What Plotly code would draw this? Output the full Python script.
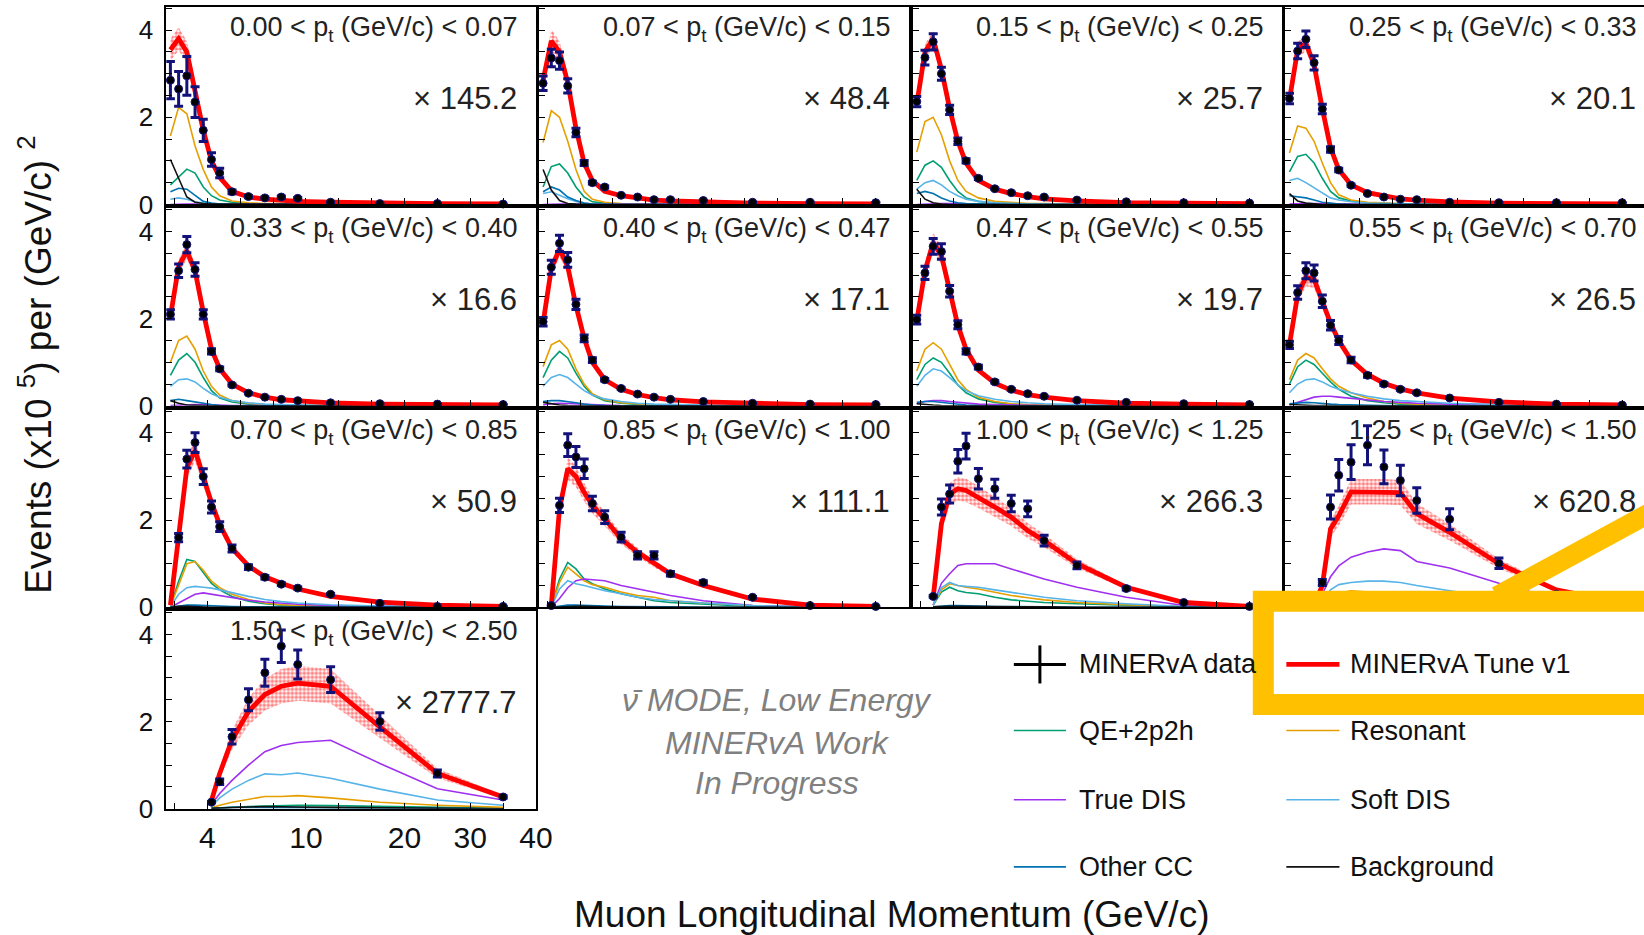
import numpy as np
import plotly.graph_objects as go

# positions below are given in a 1644 x 935 pixel frame and converted to
# paper fractions; the figure itself is rendered a little larger
W, H = 1644, 935
W_FIG, H_FIG = 1664, 952
FONT = "Liberation Sans, Arial, Helvetica, sans-serif"

# ---- binning -------------------------------------------------------------
pz_edges = [1.5, 2, 2.5, 3, 3.5, 4, 4.5, 5, 6, 7, 8, 9, 10, 15, 20, 30, 40]
# the x axis is linear up to 10 GeV/c and compressed above it
axis_gev = [1.5, 10, 20, 40]
axis_pos = [1.5, 10, 16, 24]
x_tick_gev = [4, 10, 20, 30, 40]
x_tick_text = ["4", "10", "20", "30", "40"]
y_tick_vals = [0, 2, 4]
y_tick_text = ["0", "2", "4"]

pt_lo = ["0.00", "0.07", "0.15", "0.25", "0.33", "0.40", "0.47", "0.55", "0.70", "0.85", "1.00", "1.25", "1.50"]
pt_hi = ["0.07", "0.15", "0.25", "0.33", "0.40", "0.47", "0.55", "0.70", "0.85", "1.00", "1.25", "1.50", "2.50"]
scale_factors = ["145.2", "48.4", "25.7", "20.1", "16.6", "17.1", "19.7", "26.5", "50.9", "111.1", "266.3", "620.8", "2777.7"]

# ---- measured and simulated event rates (x10^5 per (GeV/c)^2, scaled) ----
N = None
data_points = [
    [2.85, 2.65, 2.95, 2.35, 1.70, 1.03, 0.72, 0.29, 0.18, 0.15, 0.17, 0.14, 0.05, 0.02, 0.02, 0.01],
    [2.78, 3.36, 3.30, 2.72, 1.65, 0.95, 0.50, 0.40, 0.21, 0.17, 0.11, 0.11, 0.09, 0.05, 0.05, 0.04],
    [2.36, 3.37, 3.73, 3.00, 2.17, 1.45, 1.00, 0.60, 0.36, 0.27, 0.20, 0.17, 0.10, 0.06, 0.04, 0.03],
    [2.43, 3.52, 3.79, 3.25, 2.19, 1.26, 0.79, 0.44, 0.25, 0.17, 0.12, 0.11, 0.05, 0.04, 0.04, 0.04],
    [2.10, 3.10, 3.70, 3.13, 2.10, 1.25, 0.85, 0.48, 0.29, 0.20, 0.15, 0.12, 0.07, 0.05, 0.04, 0.03],
    [1.93, 3.18, 3.73, 3.35, 2.33, 1.55, 1.05, 0.60, 0.40, 0.27, 0.20, 0.15, 0.10, 0.06, 0.04, 0.03],
    [1.98, 3.05, 3.66, 3.54, 2.63, 1.86, 1.25, 0.89, 0.55, 0.38, 0.28, 0.22, 0.13, 0.08, 0.05, 0.03],
    [1.40, 2.60, 3.10, 3.05, 2.40, 1.85, 1.50, 1.05, 0.70, 0.50, 0.38, 0.30, 0.18, 0.08, 0.04, 0.02],
    [N, 1.60, 3.40, 3.78, 3.00, 2.30, 1.85, 1.35, 0.92, 0.69, 0.53, 0.44, 0.30, 0.09, 0.02, 0.02],
    [N, 0.04, 2.34, 3.72, 3.45, 3.18, 2.38, 2.07, 1.61, 1.19, 1.19, 0.77, 0.57, 0.23, 0.04, 0.02],
    [N, N, 0.25, 2.30, 2.60, 3.35, 3.70, 2.95, 2.72, 2.38, 2.26, 1.53, 0.96, 0.43, 0.11, 0.02],
    [N, N, N, N, 0.57, 2.30, 3.03, 3.33, 3.72, 3.22, 2.91, 2.45, 2.02, 1.01, 0.30, 0.05],
    [N, N, N, N, N, 0.15, 0.62, 1.65, 2.50, 3.12, 3.73, 3.31, 2.96, 2.00, 0.81, 0.27],
]
mc_tune = [
    [3.55, 3.80, 3.50, 2.65, 1.70, 1.00, 0.62, 0.30, 0.17, 0.12, 0.09, 0.07, 0.05, 0.03, 0.02, 0.01],
    [2.85, 3.75, 3.50, 2.80, 1.75, 0.95, 0.55, 0.30, 0.20, 0.14, 0.10, 0.08, 0.05, 0.03, 0.02, 0.01],
    [2.30, 3.50, 3.80, 3.10, 2.20, 1.45, 0.95, 0.55, 0.35, 0.25, 0.18, 0.13, 0.08, 0.04, 0.03, 0.02],
    [2.40, 3.55, 3.70, 3.20, 2.20, 1.30, 0.80, 0.45, 0.27, 0.19, 0.13, 0.10, 0.06, 0.03, 0.02, 0.01],
    [2.05, 3.20, 3.55, 3.10, 2.15, 1.30, 0.85, 0.50, 0.30, 0.20, 0.14, 0.11, 0.07, 0.04, 0.03, 0.02],
    [1.90, 3.15, 3.60, 3.20, 2.30, 1.55, 1.00, 0.60, 0.38, 0.26, 0.19, 0.14, 0.09, 0.05, 0.03, 0.02],
    [1.95, 3.10, 3.75, 3.45, 2.65, 1.85, 1.30, 0.82, 0.52, 0.36, 0.26, 0.20, 0.12, 0.06, 0.04, 0.02],
    [1.40, 2.55, 2.95, 2.90, 2.40, 1.90, 1.50, 1.05, 0.72, 0.52, 0.39, 0.30, 0.18, 0.09, 0.04, 0.02],
    [0.05, 1.60, 3.20, 3.60, 3.00, 2.40, 1.90, 1.35, 0.95, 0.70, 0.55, 0.42, 0.25, 0.12, 0.05, 0.02],
    [0.00, 0.05, 2.26, 3.18, 3.00, 2.64, 2.34, 2.03, 1.57, 1.26, 1.00, 0.77, 0.50, 0.19, 0.05, 0.02],
    [0.00, 0.00, 0.23, 1.92, 2.60, 2.72, 2.68, 2.53, 2.30, 2.07, 1.76, 1.53, 1.00, 0.46, 0.11, 0.02],
    [0.00, 0.00, 0.00, 0.05, 0.50, 1.80, 2.10, 2.65, 2.65, 2.65, 2.63, 2.15, 1.72, 1.00, 0.40, 0.10],
    [0.00, 0.00, 0.00, 0.00, 0.00, 0.19, 0.81, 1.58, 2.23, 2.62, 2.81, 2.88, 2.81, 1.88, 0.81, 0.27],
]
qe_2p2h = [
    [0.45, 0.64, 0.81, 0.72, 0.40, 0.20, 0.10, 0.05, 0.02, 0.01, 0.01, 0.01, 0.00, 0.00, 0.00, 0.00],
    [0.40, 0.87, 0.93, 0.72, 0.40, 0.17, 0.06, 0.03, 0.01, 0.01, 0.00, 0.00, 0.00, 0.00, 0.00, 0.00],
    [0.55, 0.90, 1.00, 0.85, 0.55, 0.30, 0.15, 0.07, 0.03, 0.02, 0.01, 0.01, 0.00, 0.00, 0.00, 0.00],
    [0.75, 1.10, 1.15, 0.95, 0.60, 0.30, 0.15, 0.08, 0.04, 0.02, 0.01, 0.01, 0.00, 0.00, 0.00, 0.00],
    [0.70, 1.05, 1.20, 1.00, 0.65, 0.35, 0.18, 0.09, 0.04, 0.02, 0.01, 0.01, 0.00, 0.00, 0.00, 0.00],
    [0.65, 1.05, 1.25, 1.10, 0.75, 0.45, 0.25, 0.12, 0.06, 0.03, 0.02, 0.01, 0.00, 0.00, 0.00, 0.00],
    [0.60, 0.95, 1.10, 1.00, 0.75, 0.48, 0.30, 0.16, 0.08, 0.04, 0.02, 0.01, 0.00, 0.00, 0.00, 0.00],
    [0.50, 0.90, 1.05, 0.95, 0.75, 0.55, 0.38, 0.22, 0.12, 0.07, 0.04, 0.03, 0.02, 0.00, 0.00, 0.00],
    [0.02, 0.60, 1.10, 1.05, 0.80, 0.55, 0.40, 0.25, 0.14, 0.08, 0.05, 0.03, 0.02, 0.01, 0.00, 0.00],
    [0.00, 0.02, 0.65, 1.03, 0.88, 0.65, 0.54, 0.42, 0.31, 0.23, 0.15, 0.11, 0.08, 0.02, 0.01, 0.00],
    [0.00, 0.00, 0.05, 0.35, 0.46, 0.38, 0.34, 0.31, 0.23, 0.17, 0.14, 0.11, 0.08, 0.04, 0.01, 0.00],
    [0.00, 0.00, 0.00, 0.00, 0.05, 0.15, 0.20, 0.22, 0.20, 0.18, 0.15, 0.12, 0.08, 0.04, 0.01, 0.00],
    [0.00, 0.00, 0.00, 0.00, 0.00, 0.01, 0.02, 0.04, 0.05, 0.06, 0.07, 0.08, 0.07, 0.05, 0.02, 0.01],
]
resonant = [
    [1.57, 2.23, 2.08, 1.34, 0.80, 0.40, 0.20, 0.08, 0.04, 0.02, 0.02, 0.01, 0.01, 0.00, 0.00, 0.00],
    [1.42, 2.15, 2.00, 1.45, 0.80, 0.30, 0.12, 0.05, 0.02, 0.01, 0.01, 0.01, 0.00, 0.00, 0.00, 0.00],
    [1.20, 1.90, 2.00, 1.60, 1.00, 0.55, 0.30, 0.15, 0.07, 0.04, 0.02, 0.02, 0.01, 0.00, 0.00, 0.00],
    [1.18, 1.80, 1.75, 1.45, 0.95, 0.50, 0.22, 0.10, 0.05, 0.03, 0.02, 0.01, 0.00, 0.00, 0.00, 0.00],
    [1.00, 1.50, 1.60, 1.30, 0.80, 0.45, 0.25, 0.12, 0.06, 0.03, 0.02, 0.01, 0.00, 0.00, 0.00, 0.00],
    [0.90, 1.40, 1.50, 1.30, 0.85, 0.50, 0.28, 0.14, 0.07, 0.04, 0.02, 0.01, 0.00, 0.00, 0.00, 0.00],
    [0.80, 1.30, 1.45, 1.30, 0.95, 0.60, 0.38, 0.20, 0.10, 0.05, 0.03, 0.02, 0.01, 0.00, 0.00, 0.00],
    [0.60, 1.05, 1.20, 1.10, 0.85, 0.62, 0.45, 0.30, 0.18, 0.10, 0.06, 0.04, 0.02, 0.01, 0.00, 0.00],
    [0.02, 0.50, 1.00, 1.05, 0.85, 0.60, 0.45, 0.30, 0.18, 0.10, 0.06, 0.04, 0.02, 0.01, 0.00, 0.00],
    [0.00, 0.02, 0.57, 0.92, 0.77, 0.61, 0.52, 0.46, 0.35, 0.27, 0.23, 0.15, 0.10, 0.04, 0.01, 0.00],
    [0.00, 0.00, 0.05, 0.40, 0.54, 0.50, 0.46, 0.42, 0.34, 0.27, 0.22, 0.17, 0.11, 0.06, 0.02, 0.00],
    [0.00, 0.00, 0.00, 0.00, 0.08, 0.25, 0.33, 0.38, 0.35, 0.33, 0.30, 0.25, 0.17, 0.09, 0.03, 0.00],
    [0.00, 0.00, 0.00, 0.00, 0.00, 0.02, 0.08, 0.15, 0.22, 0.28, 0.28, 0.30, 0.25, 0.15, 0.08, 0.03],
]
true_dis = [
    [0.00, 0.01, 0.01, 0.01, 0.01, 0.00, 0.00, 0.00, 0.00, 0.00, 0.00, 0.00, 0.00, 0.00, 0.00, 0.00],
    [0.00, 0.01, 0.01, 0.01, 0.01, 0.00, 0.00, 0.00, 0.00, 0.00, 0.00, 0.00, 0.00, 0.00, 0.00, 0.00],
    [0.00, 0.01, 0.02, 0.02, 0.02, 0.01, 0.01, 0.01, 0.00, 0.00, 0.00, 0.00, 0.00, 0.00, 0.00, 0.00],
    [0.01, 0.02, 0.02, 0.02, 0.02, 0.01, 0.01, 0.01, 0.00, 0.00, 0.00, 0.00, 0.00, 0.00, 0.00, 0.00],
    [0.01, 0.02, 0.03, 0.03, 0.03, 0.02, 0.02, 0.01, 0.01, 0.00, 0.00, 0.00, 0.00, 0.00, 0.00, 0.00],
    [0.02, 0.05, 0.06, 0.05, 0.04, 0.03, 0.03, 0.02, 0.01, 0.01, 0.00, 0.00, 0.00, 0.00, 0.00, 0.00],
    [0.05, 0.10, 0.12, 0.12, 0.10, 0.08, 0.06, 0.04, 0.03, 0.02, 0.01, 0.01, 0.00, 0.00, 0.00, 0.00],
    [0.02, 0.08, 0.15, 0.20, 0.22, 0.22, 0.20, 0.17, 0.13, 0.10, 0.08, 0.06, 0.04, 0.02, 0.01, 0.00],
    [0.00, 0.10, 0.20, 0.30, 0.33, 0.30, 0.28, 0.22, 0.16, 0.12, 0.09, 0.07, 0.04, 0.02, 0.01, 0.00],
    [0.00, 0.01, 0.20, 0.45, 0.61, 0.65, 0.63, 0.61, 0.50, 0.42, 0.34, 0.27, 0.15, 0.04, 0.01, 0.00],
    [0.00, 0.00, 0.05, 0.55, 0.77, 0.96, 1.00, 1.00, 1.00, 0.88, 0.77, 0.65, 0.46, 0.23, 0.04, 0.00],
    [0.00, 0.00, 0.00, 0.00, 0.30, 0.70, 0.95, 1.15, 1.27, 1.34, 1.30, 1.05, 0.90, 0.55, 0.20, 0.05],
    [0.00, 0.00, 0.00, 0.00, 0.00, 0.10, 0.35, 0.65, 1.00, 1.31, 1.45, 1.52, 1.57, 1.04, 0.46, 0.20],
]
soft_dis = [
    [0.12, 0.15, 0.12, 0.06, 0.03, 0.01, 0.01, 0.00, 0.00, 0.00, 0.00, 0.00, 0.00, 0.00, 0.00, 0.00],
    [0.25, 0.29, 0.21, 0.13, 0.07, 0.03, 0.01, 0.00, 0.00, 0.00, 0.00, 0.00, 0.00, 0.00, 0.00, 0.00],
    [0.35, 0.50, 0.55, 0.45, 0.30, 0.20, 0.12, 0.07, 0.04, 0.02, 0.01, 0.01, 0.00, 0.00, 0.00, 0.00],
    [0.55, 0.60, 0.50, 0.38, 0.25, 0.15, 0.10, 0.06, 0.03, 0.02, 0.01, 0.01, 0.00, 0.00, 0.00, 0.00],
    [0.45, 0.60, 0.62, 0.55, 0.40, 0.28, 0.20, 0.12, 0.07, 0.04, 0.03, 0.02, 0.01, 0.00, 0.00, 0.00],
    [0.45, 0.65, 0.72, 0.65, 0.50, 0.35, 0.25, 0.16, 0.10, 0.06, 0.04, 0.03, 0.02, 0.01, 0.00, 0.00],
    [0.45, 0.70, 0.85, 0.80, 0.65, 0.48, 0.35, 0.23, 0.15, 0.10, 0.07, 0.05, 0.03, 0.01, 0.00, 0.00],
    [0.30, 0.50, 0.60, 0.62, 0.55, 0.45, 0.38, 0.30, 0.22, 0.16, 0.12, 0.10, 0.06, 0.03, 0.01, 0.01],
    [0.01, 0.30, 0.45, 0.48, 0.46, 0.44, 0.40, 0.33, 0.25, 0.18, 0.13, 0.10, 0.06, 0.03, 0.01, 0.00],
    [0.00, 0.01, 0.42, 0.61, 0.54, 0.50, 0.45, 0.38, 0.31, 0.23, 0.18, 0.15, 0.10, 0.04, 0.01, 0.00],
    [0.00, 0.00, 0.05, 0.45, 0.57, 0.50, 0.48, 0.46, 0.40, 0.34, 0.28, 0.23, 0.15, 0.08, 0.02, 0.00],
    [0.00, 0.00, 0.00, 0.00, 0.15, 0.40, 0.52, 0.57, 0.60, 0.60, 0.57, 0.50, 0.38, 0.20, 0.08, 0.02],
    [0.00, 0.00, 0.00, 0.00, 0.00, 0.05, 0.25, 0.45, 0.65, 0.80, 0.78, 0.82, 0.70, 0.45, 0.20, 0.08],
]
other_cc = [
    [0.29, 0.37, 0.35, 0.20, 0.07, 0.03, 0.01, 0.00, 0.00, 0.00, 0.00, 0.00, 0.00, 0.00, 0.00, 0.00],
    [0.29, 0.40, 0.33, 0.17, 0.09, 0.03, 0.01, 0.00, 0.00, 0.00, 0.00, 0.00, 0.00, 0.00, 0.00, 0.00],
    [0.25, 0.30, 0.25, 0.15, 0.08, 0.04, 0.02, 0.01, 0.00, 0.00, 0.00, 0.00, 0.00, 0.00, 0.00, 0.00],
    [0.20, 0.18, 0.15, 0.10, 0.05, 0.03, 0.01, 0.00, 0.00, 0.00, 0.00, 0.00, 0.00, 0.00, 0.00, 0.00],
    [0.12, 0.15, 0.12, 0.09, 0.05, 0.03, 0.01, 0.00, 0.00, 0.00, 0.00, 0.00, 0.00, 0.00, 0.00, 0.00],
    [0.10, 0.12, 0.12, 0.10, 0.07, 0.04, 0.02, 0.01, 0.00, 0.00, 0.00, 0.00, 0.00, 0.00, 0.00, 0.00],
    [0.08, 0.10, 0.10, 0.08, 0.06, 0.04, 0.02, 0.01, 0.00, 0.00, 0.00, 0.00, 0.00, 0.00, 0.00, 0.00],
    [0.05, 0.07, 0.08, 0.07, 0.05, 0.04, 0.03, 0.02, 0.01, 0.01, 0.00, 0.00, 0.00, 0.00, 0.00, 0.00],
    [0.00, 0.03, 0.05, 0.05, 0.04, 0.03, 0.02, 0.02, 0.01, 0.01, 0.00, 0.00, 0.00, 0.00, 0.00, 0.00],
    [0.00, 0.00, 0.03, 0.05, 0.05, 0.04, 0.03, 0.03, 0.02, 0.02, 0.01, 0.01, 0.00, 0.00, 0.00, 0.00],
    [0.00, 0.00, 0.01, 0.03, 0.04, 0.04, 0.03, 0.03, 0.02, 0.02, 0.01, 0.01, 0.00, 0.00, 0.00, 0.00],
    [0.00, 0.00, 0.00, 0.00, 0.01, 0.03, 0.04, 0.04, 0.04, 0.03, 0.03, 0.02, 0.02, 0.01, 0.00, 0.00],
    [0.00, 0.00, 0.00, 0.00, 0.00, 0.01, 0.02, 0.03, 0.03, 0.03, 0.03, 0.03, 0.02, 0.02, 0.01, 0.00],
]
background = [
    [1.03, 0.60, 0.17, 0.05, 0.02, 0.01, 0.01, 0.00, 0.00, 0.00, 0.00, 0.00, 0.00, 0.00, 0.00, 0.00],
    [0.80, 0.33, 0.09, 0.02, 0.01, 0.00, 0.00, 0.00, 0.00, 0.00, 0.00, 0.00, 0.00, 0.00, 0.00, 0.00],
    [0.35, 0.12, 0.04, 0.01, 0.00, 0.00, 0.00, 0.00, 0.00, 0.00, 0.00, 0.00, 0.00, 0.00, 0.00, 0.00],
    [0.25, 0.08, 0.03, 0.01, 0.00, 0.00, 0.00, 0.00, 0.00, 0.00, 0.00, 0.00, 0.00, 0.00, 0.00, 0.00],
    [0.12, 0.06, 0.02, 0.01, 0.00, 0.00, 0.00, 0.00, 0.00, 0.00, 0.00, 0.00, 0.00, 0.00, 0.00, 0.00],
    [0.08, 0.05, 0.02, 0.01, 0.00, 0.00, 0.00, 0.00, 0.00, 0.00, 0.00, 0.00, 0.00, 0.00, 0.00, 0.00],
    [0.05, 0.03, 0.02, 0.01, 0.00, 0.00, 0.00, 0.00, 0.00, 0.00, 0.00, 0.00, 0.00, 0.00, 0.00, 0.00],
    [0.03, 0.02, 0.02, 0.01, 0.01, 0.00, 0.00, 0.00, 0.00, 0.00, 0.00, 0.00, 0.00, 0.00, 0.00, 0.00],
    [0.00, 0.02, 0.02, 0.01, 0.01, 0.00, 0.00, 0.00, 0.00, 0.00, 0.00, 0.00, 0.00, 0.00, 0.00, 0.00],
    [0.00, 0.00, 0.01, 0.02, 0.02, 0.02, 0.01, 0.01, 0.01, 0.00, 0.00, 0.00, 0.00, 0.00, 0.00, 0.00],
    [0.00, 0.00, 0.01, 0.02, 0.02, 0.02, 0.02, 0.02, 0.01, 0.01, 0.01, 0.01, 0.00, 0.00, 0.00, 0.00],
    [0.00, 0.00, 0.00, 0.00, 0.01, 0.02, 0.03, 0.03, 0.03, 0.02, 0.02, 0.02, 0.01, 0.01, 0.00, 0.00],
    [0.00, 0.00, 0.00, 0.00, 0.00, 0.01, 0.02, 0.03, 0.04, 0.05, 0.05, 0.04, 0.03, 0.02, 0.01, 0.00],
]
# fractional total uncertainty on data points and on the MC prediction
data_err_frac = [0.15, 0.06, 0.05, 0.05, 0.05, 0.05, 0.05, 0.06, 0.06, 0.07, 0.08, 0.12, 0.10]
mc_err_frac = [0.07, 0.07, 0.05, 0.05, 0.05, 0.05, 0.06, 0.07, 0.07, 0.08, 0.10, 0.11, 0.14]

components = [
    ("QE+2p2h", qe_2p2h, "#009E73"),
    ("Resonant", resonant, "#E69F00"),
    ("True DIS", true_dis, "#A030F0"),
    ("Soft DIS", soft_dis, "#56B4E9"),
    ("Other CC", other_cc, "#0072B2"),
    ("Background", background, "#111111"),
]
RED = "#FF0000"
NAVY = "#12127A"
GOLD = "#FFC000"


def to_axis(v):
    return np.interp(v, axis_gev, axis_pos)


edges_ax = to_axis(np.array(pz_edges, float))
x_centres = 0.5 * (edges_ax[:-1] + edges_ax[1:])

# ---- panel geometry (pixels) ---------------------------------------------
col_left = [166, 538, 911, 1283]
row_top = [7, 208, 409, 610]
PW, PH = 369, 197
PX_PER_UNIT = PW / (axis_pos[-1] - axis_gev[0])
Y_MAX = 4.53


def fx(px):
    return px / W


def fy(py):
    return 1 - py / H


def note(x, y, text, size, colour="#111111", xanchor="center", **kw):
    return dict(x=fx(x), y=fy(y), xref="paper", yref="paper", xanchor=xanchor,
                yanchor="middle", showarrow=False, text=text,
                font=dict(size=size, family=FONT, color=colour), **kw)


fig = go.Figure()
layout = dict(
    width=W_FIG, height=H_FIG, margin=dict(l=0, r=0, t=0, b=0),
    paper_bgcolor="white", plot_bgcolor="white", showlegend=False,
    font=dict(family=FONT, color="#111111"),
)
annotations = []
shapes = []

for i in range(13):
    r, c = divmod(i, 4)
    left = col_left[c]
    right = min(left + PW, W)
    top = row_top[r]
    bottom = top + PH
    sfx = "" if i == 0 else str(i + 1)
    xa, ya = "x" + sfx, "y" + sfx

    x_max = axis_gev[0] + (right - left) / PX_PER_UNIT
    layout["xaxis" + sfx] = dict(
        domain=[fx(left), fx(right)], range=[axis_gev[0], x_max], anchor=ya,
        showline=True, linecolor="black", linewidth=2, mirror=True,
        showgrid=False, zeroline=False,
        ticks="inside", ticklen=6, tickwidth=1.2, tickcolor="black",
        tickvals=list(to_axis(x_tick_gev)), ticktext=x_tick_text,
        showticklabels=(i == 12), ticklabelstandoff=1,
        tickfont=dict(size=30, family=FONT, color="#111111"),
        minor=dict(dtick=2, tick0=0, ticks="inside", ticklen=6, tickcolor="black"),
    )
    layout["yaxis" + sfx] = dict(
        domain=[fy(bottom), fy(top)], range=[0, Y_MAX], anchor=xa,
        showline=True, linecolor="black", linewidth=2, mirror=(c < 3),
        showgrid=False, zeroline=False,
        ticks="inside", ticklen=6, tickwidth=1.2, tickcolor="black",
        tickvals=y_tick_vals, ticktext=y_tick_text,
        showticklabels=(c == 0), ticklabelstandoff=6,
        tickfont=dict(size=26, family=FONT, color="#111111"),
        minor=dict(dtick=0.5, tick0=0, ticks="inside", ticklen=6, tickcolor="black"),
    )

    mc = np.array(mc_tune[i], float)
    start = int(np.argmax(mc > 0))
    xs = x_centres[start:]
    m = mc[start:]
    f = mc_err_frac[i]

    # dotted systematic band around the tuned prediction
    fig.add_trace(go.Scatter(
        x=np.concatenate([xs, xs[::-1]]),
        y=np.concatenate([m * (1 + f), (m * (1 - f))[::-1]]),
        fill="toself", mode="lines", line=dict(width=0),
        fillcolor="rgba(255,255,255,0)",
        fillpattern=dict(shape=".", fgcolor=RED, bgcolor="rgba(255,255,255,0)",
                         size=4, solidity=0.6),
        hoverinfo="skip", xaxis=xa, yaxis=ya,
    ))
    for name, series, colour in components:
        v = np.array(series[i], float)
        fig.add_trace(go.Scatter(
            x=x_centres[start:], y=v[start:], mode="lines", name=name,
            line=dict(color=colour, width=1.6), xaxis=xa, yaxis=ya,
        ))
    fig.add_trace(go.Scatter(
        x=xs, y=m, mode="lines", name="MINERvA Tune v1",
        line=dict(color=RED, width=4.8), xaxis=xa, yaxis=ya,
    ))
    d = np.array([np.nan if v is None else v for v in data_points[i]], float)
    fig.add_trace(go.Scatter(
        x=x_centres, y=d, mode="markers", name="MINERvA data",
        marker=dict(color="black", size=8, line=dict(color=NAVY, width=1)),
        error_y=dict(type="data", array=d * data_err_frac[i], color=NAVY,
                     thickness=3, width=4.5),
        cliponaxis=False, xaxis=xa, yaxis=ya,
    ))

    # panel labels
    text_right = left + PW - 17
    annotations.append(note(text_right, top + 22,
                            f"{pt_lo[i]} &lt; p<sub>t</sub> (GeV/c) &lt; {pt_hi[i]}",
                            27, "#222222", xanchor="right"))
    annotations.append(note(text_right, top + 91, f"× {scale_factors[i]}",
                            31, "#222222", xanchor="right"))

# ---- axis titles -----------------------------------------------------------
annotations.append(note(890, 913, "Muon Longitudinal Momentum (GeV/c)", 37))
annotations.append(note(36, 364, "Events (x10 <sup>5</sup>) per (GeV/c) <sup>2</sup>",
                        37, textangle=-90))

# ---- watermark ---------------------------------------------------------------
for txt, yy in [("ν\u0304 MODE, Low Energy", 699), ("MINERvA Work", 741), ("In Progress", 781)]:
    annotations.append(note(776, yy, f"<i>{txt}</i>", 32, "#808080"))

# ---- legend (two columns) ---------------------------------------------------
legend_rows = [663, 729, 798, 865]
legend_left = [("MINERvA data", None, 0), ("QE+2p2h", "#009E73", 1.6),
               ("True DIS", "#A030F0", 1.6), ("Other CC", "#0072B2", 1.6)]
legend_right = [("MINERvA Tune v1", RED, 4.8), ("Resonant", "#E69F00", 1.6),
                ("Soft DIS", "#56B4E9", 1.6), ("Background", "#111111", 1.6)]
for (lx0, lx1, tx), entries in [((1012, 1064, 1075), legend_left),
                                 ((1284, 1337, 1346), legend_right)]:
    for (label, colour, lw), yy in zip(entries, legend_rows):
        if colour is None:
            shapes.append(dict(type="line", xref="paper", yref="paper",
                               x0=fx(lx0), x1=fx(lx1), y0=fy(yy), y1=fy(yy),
                               line=dict(color="black", width=3)))
            xm = (lx0 + lx1) / 2
            shapes.append(dict(type="line", xref="paper", yref="paper",
                               x0=fx(xm), x1=fx(xm), y0=fy(yy - 19), y1=fy(yy + 19),
                               line=dict(color="black", width=3)))
        else:
            shapes.append(dict(type="line", xref="paper", yref="paper",
                               x0=fx(lx0), x1=fx(lx1), y0=fy(yy), y1=fy(yy),
                               line=dict(color=colour, width=lw)))
        annotations.append(note(tx, yy, label, 27, xanchor="left"))

# ---- gold call-out frame and pointer ------------------------------------------
shapes.append(dict(type="rect", xref="paper", yref="paper", layer="above",
                   x0=fx(1261), x1=fx(1720), y0=fy(600), y1=fy(703),
                   line=dict(color=GOLD, width=21), fillcolor="rgba(0,0,0,0)"))
shapes.append(dict(type="line", xref="paper", yref="paper", layer="above",
                   x0=fx(1494), y0=fy(595), x1=fx(1720), y1=fy(472),
                   line=dict(color=GOLD, width=20)))

layout["annotations"] = annotations
layout["shapes"] = shapes
fig.update_layout(**layout)
fig.write_html("out.html")
